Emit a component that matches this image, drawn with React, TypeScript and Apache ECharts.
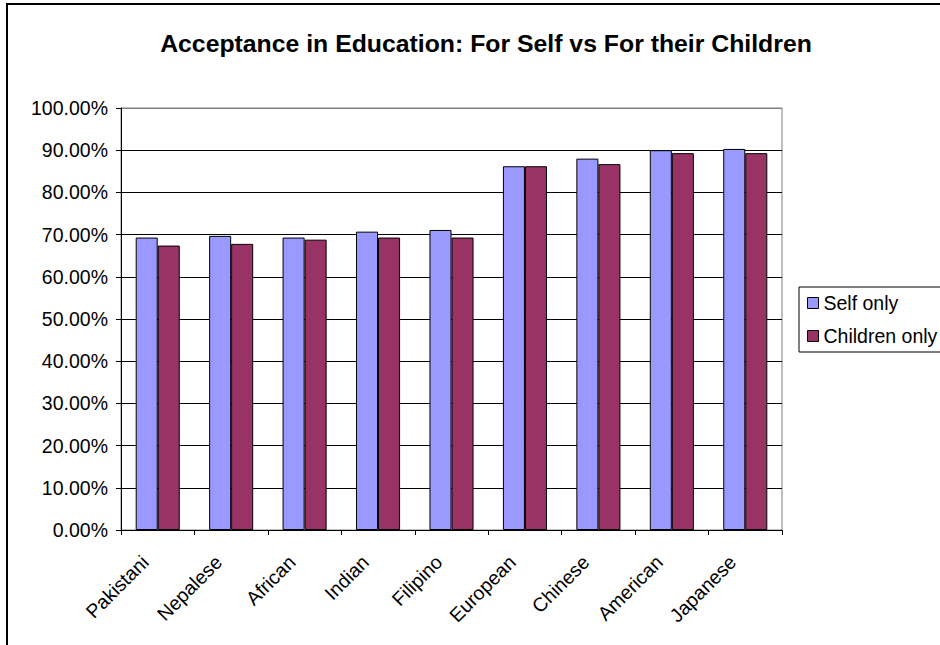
import React, { useEffect, useRef } from "react";
import * as echarts from "echarts";

const categories = ["Pakistani", "Nepalese", "African", "Indian", "Filipino", "European", "Chinese", "American", "Japanese"];
const selfOnly = [0.693, 0.697, 0.693, 0.707, 0.711, 0.862, 0.880, 0.900, 0.903];
const childrenOnly = [0.674, 0.678, 0.688, 0.693, 0.693, 0.862, 0.867, 0.893, 0.893];
const seriesNames = ["Self only", "Children only"];
const titleText = "Acceptance in Education: For Self vs For their Children";

const FONT = "'Liberation Sans', Arial, sans-serif";

export default function App() {
  const ref = useRef<HTMLDivElement>(null);
  useEffect(() => {
    document.body.style.margin = "0";
    const chart = echarts.init(ref.current!, null, { renderer: "svg" });
    const gridColors = Array.from({ length: 11 }, (_, i) => (i === 10 ? "#808080" : "#000000"));
    chart.setOption({
      animation: false,
      backgroundColor: "#ffffff",
      textStyle: { fontFamily: FONT },
      title: {
        text: titleText,
        left: 481,
        top: 26,
        textAlign: "center",
        textStyle: { fontFamily: FONT, fontSize: 24.8, fontWeight: "bold", color: "#000" },
      },
      graphic: [
        {
          type: "rect",
          shape: { x: 7, y: 4, width: 1000, height: 1000 },
          style: { fill: "none", stroke: "#000", lineWidth: 2 },
          silent: true,
          z: -10,
        },
      ],
      legend: {
        orient: "vertical",
        left: 799,
        top: 287,
        data: seriesNames,
        itemWidth: 11,
        itemHeight: 11,
        itemGap: 13,
        padding: [6, 14, 6, 8],
        borderColor: "#000",
        borderWidth: 1,
        icon: "rect",
        itemStyle: { borderColor: "#000", borderWidth: 1 },
        textStyle: { fontFamily: FONT, fontSize: 19.5, color: "#000" },
      },
      grid: {
        left: 121,
        right: 158,
        top: 108,
        bottom: 115,
        show: true,
        borderColor: "#808080",
        borderWidth: 1,
      },
      xAxis: {
        type: "category",
        data: categories,
        boundaryGap: true,
        axisLine: { lineStyle: { color: "#000", width: 1 } },
        axisTick: { show: true, length: 5, alignWithLabel: false, lineStyle: { color: "#000" } },
        axisLabel: {
          rotate: 45,
          fontSize: 19.5,
          color: "#000",
          fontFamily: FONT,
          margin: 16,
          interval: 0,
          padding: [0, 18, 0, 0],
        },
      },
      yAxis: {
        type: "value",
        min: 0,
        max: 1,
        interval: 0.1,
        axisLine: { show: true, lineStyle: { color: "#000", width: 1 } },
        axisTick: { show: true, length: 5, lineStyle: { color: "#000" } },
        axisLabel: {
          fontSize: 19.5,
          color: "#000",
          fontFamily: FONT,
          margin: 13,
          formatter: (v: number) => (v * 100).toFixed(2) + "%",
        },
        splitLine: { show: true, lineStyle: { color: gridColors, width: 1 } },
      },
      series: [
        {
          name: seriesNames[0],
          type: "bar",
          data: selfOnly,
          barGap: "0%",
          barCategoryGap: "40%",
          itemStyle: { color: "#9999FF", borderColor: "#000", borderWidth: 1 },
        },
        {
          name: seriesNames[1],
          type: "bar",
          data: childrenOnly,
          barGap: "0%",
          barCategoryGap: "40%",
          itemStyle: { color: "#993366", borderColor: "#000", borderWidth: 1 },
        },
      ],
    });
    return () => chart.dispose();
  }, []);
  return <div ref={ref} style={{ width: 940, height: 645 }} />;
}
